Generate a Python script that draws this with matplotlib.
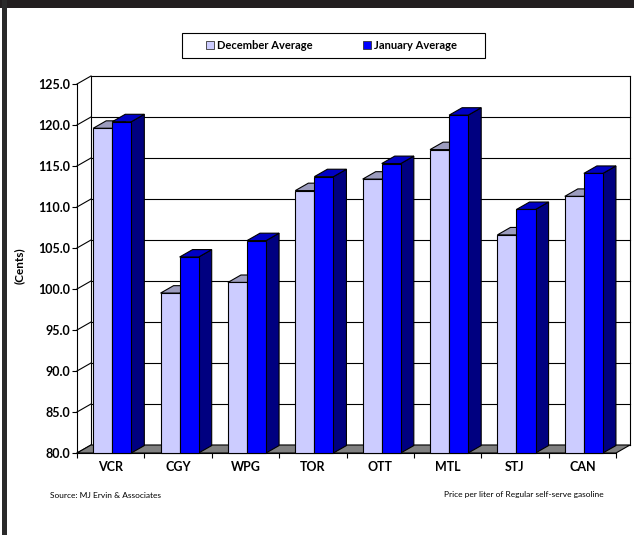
import numpy as np
import matplotlib
matplotlib.use("Agg")
import matplotlib.pyplot as plt
from matplotlib.patches import Polygon, Rectangle, Patch

plt.rcParams['font.family'] = ['Lato', 'DejaVu Sans']

categories = ["VCR", "CGY", "WPG", "TOR", "OTT", "MTL", "STJ", "CAN"]
december = [119.6, 99.5, 100.8, 112.0, 113.4, 117.0, 106.6, 111.3]
january = [120.4, 103.9, 105.9, 113.7, 115.3, 121.2, 109.7, 114.1]
series_names = ["December Average", "January Average"]
yticks = [80, 85, 90, 95, 100, 105, 110, 115, 120, 125]

W, H = 634, 535
fig = plt.figure(figsize=(W / 100, H / 100), dpi=100)
fig.patch.set_facecolor("white")

# dark frame (top and left)
fig.add_artist(Rectangle((0, 1 - 8 / H), 1, 8 / H, transform=fig.transFigure,
                         facecolor="#231f20", edgecolor="none", zorder=0))
fig.add_artist(Rectangle((2 / W, 0), 5 / W, 1, transform=fig.transFigure,
                         facecolor="#2a2a2a", edgecolor="none", zorder=0))

ax = fig.add_axes([77 / W, (H - 453) / H, 539 / W, (453 - 84) / H])
ymin, ymax = 80, 125
ax.set_xlim(0, len(categories))
ax.set_ylim(ymin, ymax)
ax.patch.set_alpha(0)

# depth of the pseudo-3D box, in data units
DX = 14 / (539 / 8)
DY = 8 / ((453 - 84) / 45)

lw = 0.8
# back wall gridlines and edges
for v in yticks:
    ax.plot([DX, len(categories) + DX], [v + DY, v + DY], color="black", lw=lw,
            clip_on=False, zorder=1)
    ax.plot([0, DX], [v, v + DY], color="black", lw=lw, clip_on=False, zorder=1)
ax.plot([DX, DX], [ymin + DY, ymax + DY], color="black", lw=lw, clip_on=False, zorder=1)
ax.plot([len(categories) + DX] * 2, [ymin + DY, ymax + DY], color="black", lw=lw,
        clip_on=False, zorder=1)

# floor
n = len(categories)
floor = Polygon([(0, ymin), (n, ymin), (n + DX, ymin + DY), (DX, ymin + DY)],
                closed=True, facecolor="#808080", edgecolor="black", lw=lw,
                clip_on=False, zorder=2)
ax.add_patch(floor)

# bars
colors = [
    dict(front="#CCCCFF", top="#9C9CBE", side="#666699"),
    dict(front="#0000FF", top="#0000C4", side="#000080"),
]
bw = 0.283
start = 0.24
bd0, bd1 = 0.0, 0.93
z = 3
for i in range(n):
    for s, vals in enumerate([december, january]):
        v = vals[i]
        x0 = i + start + s * bw
        x1 = x0 + bw
        ox0, oy0 = DX * bd0, DY * bd0
        ox1, oy1 = DX * bd1, DY * bd1
        c = colors[s]
        side = Polygon([(x1 + ox0, ymin + oy0), (x1 + ox1, ymin + oy1),
                        (x1 + ox1, v + oy1), (x1 + ox0, v + oy0)],
                       facecolor=c["side"], edgecolor="black", lw=lw, clip_on=False, zorder=z)
        top = Polygon([(x0 + ox0, v + oy0), (x1 + ox0, v + oy0),
                       (x1 + ox1, v + oy1), (x0 + ox1, v + oy1)],
                      facecolor=c["top"], edgecolor="black", lw=lw, clip_on=False, zorder=z)
        front = Polygon([(x0 + ox0, ymin + oy0), (x1 + ox0, ymin + oy0),
                         (x1 + ox0, v + oy0), (x0 + ox0, v + oy0)],
                        facecolor=c["front"], edgecolor="black", lw=lw, clip_on=False, zorder=z)
        ax.add_patch(side)
        ax.add_patch(top)
        ax.add_patch(front)
        z += 1

# axes, ticks
for sp in ["top", "right"]:
    ax.spines[sp].set_visible(False)
for sp in ["left", "bottom"]:
    ax.spines[sp].set_linewidth(lw)
    ax.spines[sp].set_zorder(1.5)
ax.set_yticks(yticks)
ax.set_yticklabels([f"{v:.1f}" for v in yticks], fontsize=9, fontweight="bold")
ax.tick_params(axis="y", direction="out", length=3.6, width=lw, pad=1.5)
ax.set_xticks(np.arange(n) + 0.5)
ax.set_xticklabels(categories, fontsize=9, fontweight="bold")
ax.set_xticks(np.arange(n + 1), minor=True)
ax.tick_params(axis="x", which="major", length=0, pad=6)
ax.tick_params(axis="x", which="minor", direction="out", length=3.6, width=lw)

fig.text(19 / W, 1 - 266 / H, "(Cents)", rotation=90, ha="center", va="center",
         fontsize=8.5, fontweight="bold")

fig.text(50 / W, 1 - 495 / H, "Source: MJ Ervin & Associates", ha="left", va="center",
         fontsize=6)
fig.text(604 / W, 1 - 495 / H, "Price per liter of Regular self-serve gasoline",
         ha="right", va="center", fontsize=6)

# legend
fig.add_artist(Rectangle((182 / W, 1 - 58 / H), 303 / W, 25 / H, transform=fig.transFigure,
                         facecolor="white", edgecolor="black", lw=lw, zorder=5))
handles = [Patch(facecolor=colors[0]["front"], edgecolor="#333333", lw=0.6),
           Patch(facecolor=colors[1]["front"], edgecolor="#333333", lw=0.6)]
leg = fig.legend(handles, series_names, loc="center", ncol=2,
                 bbox_to_anchor=(331.5 / W, 1 - 45.5 / H), frameon=False,
                 prop=dict(size=8, weight="bold"), handlelength=0.72,
                 handleheight=0.72, handletextpad=0.27, columnspacing=4.6)
leg.set_zorder(6)

fig.savefig("out.png", dpi=100)
